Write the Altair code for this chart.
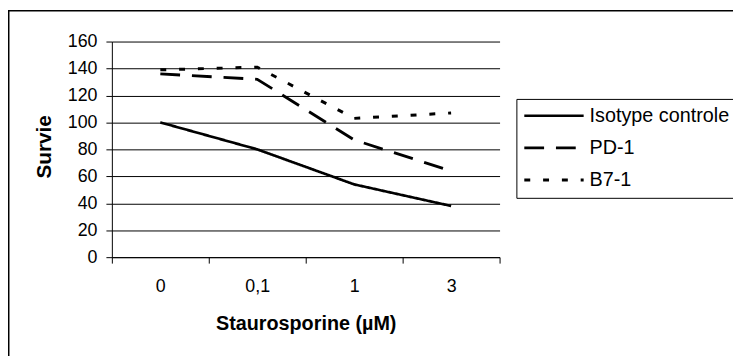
import altair as alt
import pandas as pd

categories = ["0", "0,1", "1", "3"]
series_names = ["Isotype controle", "PD-1", "B7-1"]
isotype = [100, 80, 54, 38]
pd1 = [136, 132, 87, 64]
b71 = [139, 141, 103, 107]
y_ticks = [0, 20, 40, 60, 80, 100, 120, 140, 160]

rows = []
for name, vals in zip(series_names, [isotype, pd1, b71]):
    for i, (c, v) in enumerate(zip(categories, vals)):
        rows.append({"dose": c, "idx": i, "serie": name, "survie": v})
df = pd.DataFrame(rows)
leg_df = pd.DataFrame({"serie": series_names, "pos": list(range(len(series_names)))})

FONT = "Liberation Sans"

dash_scale = alt.Scale(domain=series_names, range=[[1, 0], [20, 12], [6, 13]])
width_scale = alt.Scale(domain=series_names, range=[2.7, 3, 3])

lines = alt.Chart(df).mark_line(color="black", clip=False).encode(
    x=alt.X("dose:N", sort=categories, bandPosition=0.5,
            scale=alt.Scale(type="band", paddingInner=0, paddingOuter=0),
            axis=alt.Axis(title="Staurosporine (µM)", labelAngle=0, tickBand="extent",
                          grid=False, domainColor="black", domainWidth=1,
                          tickColor="black", tickSize=6, tickWidth=1,
                          labelFont=FONT, labelFontSize=18, labelColor="black",
                          labelBaseline="alphabetic", labelPadding=29,
                          titleFont=FONT, titleFontSize=20, titleFontWeight="bold",
                          titleColor="black", titleBaseline="alphabetic", titleY=73)),
    y=alt.Y("survie:Q", scale=alt.Scale(domain=[0, 160], nice=False),
            axis=alt.Axis(title="Survie", values=y_ticks, grid=True, gridColor="black",
                          gridWidth=1, gridOpacity=1, domainColor="black", domainWidth=1,
                          tickColor="black", tickSize=6, tickWidth=1,
                          labelFont=FONT, labelFontSize=18, labelColor="black",
                          labelPadding=9,
                          titleFont=FONT, titleFontSize=21, titleFontWeight="bold",
                          titleColor="black", titleBaseline="alphabetic",
                          titleX=-62, titleY=106, titleAngle=270)),
    strokeDash=alt.StrokeDash("serie:N", scale=dash_scale, legend=None),
    strokeWidth=alt.StrokeWidth("serie:N", scale=width_scale, legend=None),
    order=alt.Order("idx:Q"),
)

frame = alt.Chart(pd.DataFrame({"a": [0]})).mark_rect(
    fillOpacity=0, stroke="black", strokeWidth=1.5, clip=False
).encode(
    x=alt.value(-104.25), x2=alt.value(700), y=alt.value(-31.25), y2=alt.value(400)
)

# legend (drawn as layers)
leg_box = alt.Chart(pd.DataFrame({"a": [0]})).mark_rect(
    fill="white", stroke="black", strokeWidth=1, clip=False
).encode(
    x=alt.value(409.5), x2=alt.value(700), y=alt.value(58.5), y2=alt.value(158.5)
)

leg_y = alt.Y("pos:Q", scale=alt.Scale(domain=[0, 2], range=[75, 140], nice=False, zero=False),
              axis=None)

leg_lines = alt.Chart(leg_df).mark_rule(color="black", clip=False).encode(
    x=alt.value(417), x2=alt.value(477), y=leg_y,
    strokeDash=alt.StrokeDash("serie:N", scale=dash_scale, legend=None),
    strokeWidth=alt.StrokeWidth("serie:N", scale=width_scale, legend=None),
)

leg_text = alt.Chart(leg_df).mark_text(
    align="left", baseline="middle", font=FONT, fontSize=20, color="black", clip=False
).encode(
    x=alt.value(483), y=leg_y, text="serie:N"
)

legend = alt.layer(leg_box, leg_lines, leg_text)

chart = alt.layer(frame, lines, legend).resolve_scale(y="independent").properties(
    width=392, height=218,
    autosize=alt.AutoSizeParams(type="none"),
    padding={"left": 105, "top": 32, "right": 236, "bottom": 98},
    background="white",
).configure_view(stroke=None)

chart.save("out.html", embed_options={"renderer": "svg", "actions": False})
